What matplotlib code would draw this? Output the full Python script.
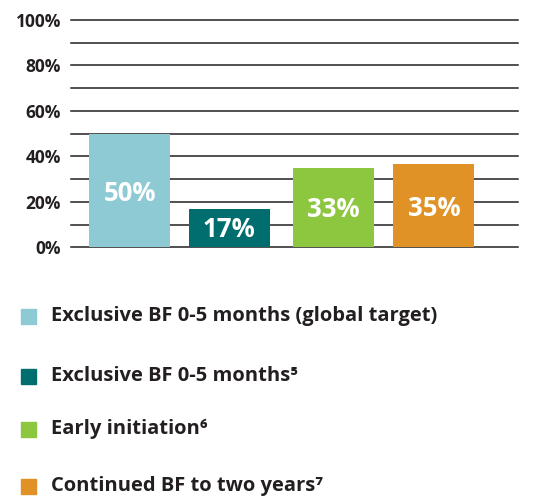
import numpy as np
import matplotlib
matplotlib.use("Agg")
import matplotlib.pyplot as plt
from matplotlib.patches import Rectangle

# bar heights as drawn, and the labels printed on them
categories = ["Exclusive BF 0-5 months (global target)",
              "Exclusive BF 0-5 months\u2075",
              "Early initiation\u2076",
              "Continued BF to two years\u2077"]
values = [50, 17, 35, 36.5]
bar_labels = ["50%", "17%", "33%", "35%"]
colors = ["#8ECAD4", "#006D6F", "#8DC63F", "#E09226"]
yticks = [0, 20, 40, 60, 80, 100]
ytick_labels = ["0%", "20%", "40%", "60%", "80%", "100%"]

plt.rcParams['font.family'] = ['Open Sans', 'DejaVu Sans']
dark = "#231f20"

fig = plt.figure(figsize=(5.45, 4.99), dpi=100)
ax = fig.add_axes([0.130, 0.5044, 0.820, 0.4556])

x = np.array([0, 0.985, 2.015, 3.01])
ax.bar(x, values, width=0.8, color=colors, zorder=3)

# horizontal rules every 10%
for g in range(0, 101, 10):
    ax.axhline(g, color=dark, lw=1.1, zorder=1, clip_on=False)

for xi, v, lab in zip(x, values, bar_labels):
    ax.text(xi, v * 0.47, lab, ha="center", va="center", color="white",
            fontsize=18.5, fontweight="bold", zorder=4)

ax.set_xlim(-0.584, 3.84)
ax.set_ylim(0, 100)
ax.set_yticks(yticks)
ax.set_yticklabels(ytick_labels, fontsize=12.5, fontweight="bold", color=dark)
ax.tick_params(axis="y", length=0, pad=7)
ax.set_xticks([])
for s in ax.spines.values():
    s.set_visible(False)

# legend drawn by hand below the chart
legend_y = [316, 376, 429, 486]
for c, lab, yy in zip(colors, categories, legend_y):
    yf = 1 - yy / 499
    fig.patches.append(Rectangle((21 / 545, yf - 7.5 / 499), 15 / 545, 15 / 499,
                                 color=c, transform=fig.transFigure))
    fig.text(51 / 545, yf, lab, ha="left", va="center", fontsize=14.5,
             fontweight="bold", color=dark)

fig.savefig("out.png", dpi=100)
